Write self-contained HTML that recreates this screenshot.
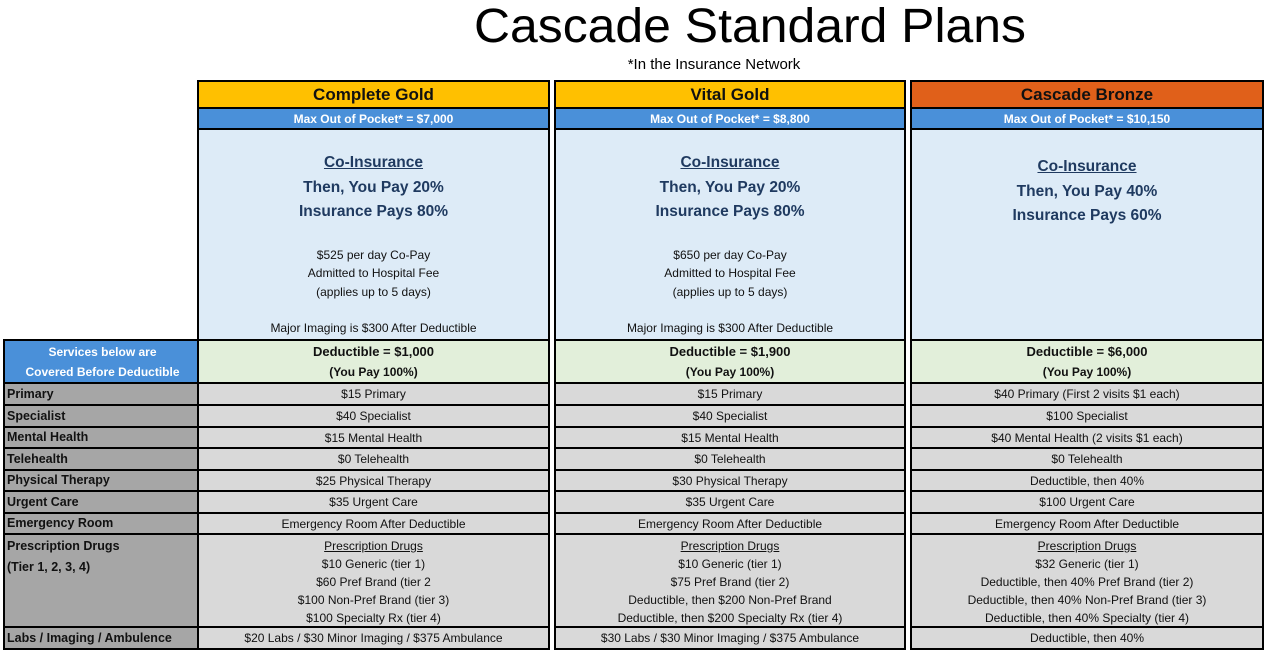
<!DOCTYPE html>
<html><head><meta charset="utf-8"><style>
*{margin:0;padding:0;box-sizing:border-box}
body{width:1269px;height:656px;background:#fff;position:relative;overflow:hidden;font-family:"Liberation Sans",sans-serif;}
.col{position:absolute;top:80px;height:570px;background:#000}
.c{position:absolute;left:2px;right:2px;display:flex;flex-direction:column;justify-content:center;align-items:center;text-align:center;white-space:nowrap;font-size:12px;color:#111;background:#d9d9d9;line-height:1}
.hd{font-weight:bold;font-size:17px;background:#ffc000}
.mx{font-weight:bold;font-size:12px;color:#fff;background:#4a90d9}
.big{background:#ddebf7;display:block}
.big div{position:absolute;left:0;right:0;text-align:center}
.ci{font-weight:bold;font-size:15.5px;color:#1f3a60}
.sm{font-size:12px;color:#111}
.dd{background:#e2efda;font-weight:bold;font-size:13px;line-height:20px}
.dd span{font-size:12px}
.rx{justify-content:flex-start;padding-top:2px;line-height:18px}
.lab{position:absolute;left:3px;top:339px;width:197px;height:311px;background:#000}
.l{position:absolute;left:2px;right:0;background:#a6a6a6;font-weight:bold;font-size:12.5px;color:#111;padding-left:2px;white-space:nowrap;display:flex;align-items:center;line-height:1}
</style></head><body>
<svg style="position:absolute;left:0;top:0" width="1269" height="80"><text x="750" y="42" text-anchor="middle" font-family="Liberation Sans" font-size="48" textLength="552" lengthAdjust="spacingAndGlyphs" fill="#000">Cascade Standard Plans</text>
<text x="714" y="69" text-anchor="middle" font-family="Liberation Sans" font-size="15" fill="#000">*In the Insurance Network</text></svg>

<div class="lab">
<div class="l" style="top:2px;height:41px;background:#4a90d9;color:#fff;justify-content:center;align-items:center;text-align:center;flex-direction:column;font-size:12px;line-height:20px;padding:0">Services below are<br>Covered Before Deductible</div>
<div class="l" style="top:45px;height:20px">Primary</div>
<div class="l" style="top:67px;height:20px">Specialist</div>
<div class="l" style="top:89px;height:19px">Mental Health</div>
<div class="l" style="top:110px;height:20px">Telehealth</div>
<div class="l" style="top:132px;height:19px">Physical Therapy</div>
<div class="l" style="top:153px;height:20px">Urgent Care</div>
<div class="l" style="top:175px;height:19px">Emergency Room</div>
<div class="l" style="top:196px;height:91px;align-items:flex-start;padding-top:1px;line-height:21px">Prescription Drugs<br>(Tier 1, 2, 3, 4)</div>
<div class="l" style="top:289px;height:20px">Labs / Imaging / Ambulence</div>
</div>

<!-- col 1 -->
<div class="col" style="left:197px;width:353px">
<div class="c hd" style="top:2px;height:25px">Complete Gold</div>
<div class="c mx" style="top:29px;height:19px">Max Out of Pocket* = $7,000</div>
<div class="c big" style="top:50px;height:209px">
<div class="ci" style="top:25px;text-decoration:underline">Co-Insurance</div>
<div class="ci" style="top:50px">Then, You Pay 20%</div>
<div class="ci" style="top:74px">Insurance Pays 80%</div>
<div class="sm" style="top:119px">$525 per day Co-Pay</div>
<div class="sm" style="top:137px">Admitted to Hospital Fee</div>
<div class="sm" style="top:156px">(applies up to 5 days)</div>
<div class="sm" style="top:192px">Major Imaging is $300 After Deductible</div>
</div>
<div class="c dd" style="top:261px;height:41px">Deductible = $1,000<span>(You Pay 100%)</span></div>
<div class="c" style="top:304px;height:20px">$15 Primary</div>
<div class="c" style="top:326px;height:20px">$40 Specialist</div>
<div class="c" style="top:348px;height:19px">$15 Mental Health</div>
<div class="c" style="top:369px;height:20px">$0 Telehealth</div>
<div class="c" style="top:391px;height:19px">$25 Physical Therapy</div>
<div class="c" style="top:412px;height:20px">$35 Urgent Care</div>
<div class="c" style="top:434px;height:19px">Emergency Room After Deductible</div>
<div class="c rx" style="top:455px;height:91px"><u>Prescription Drugs</u>$10 Generic (tier 1)<br>$60 Pref Brand (tier 2<br>$100 Non-Pref Brand (tier 3)<br>$100 Specialty Rx  (tier 4)</div>
<div class="c" style="top:548px;height:20px">$20 Labs / $30 Minor Imaging / $375 Ambulance</div>
</div>

<!-- col 2 -->
<div class="col" style="left:554px;width:352px">
<div class="c hd" style="top:2px;height:25px">Vital Gold</div>
<div class="c mx" style="top:29px;height:19px">Max Out of Pocket* = $8,800</div>
<div class="c big" style="top:50px;height:209px">
<div class="ci" style="top:25px;text-decoration:underline">Co-Insurance</div>
<div class="ci" style="top:50px">Then, You Pay 20%</div>
<div class="ci" style="top:74px">Insurance Pays 80%</div>
<div class="sm" style="top:119px">$650 per day Co-Pay</div>
<div class="sm" style="top:137px">Admitted to Hospital Fee</div>
<div class="sm" style="top:156px">(applies up to 5 days)</div>
<div class="sm" style="top:192px">Major Imaging is $300 After Deductible</div>
</div>
<div class="c dd" style="top:261px;height:41px">Deductible = $1,900<span>(You Pay 100%)</span></div>
<div class="c" style="top:304px;height:20px">$15 Primary</div>
<div class="c" style="top:326px;height:20px">$40 Specialist</div>
<div class="c" style="top:348px;height:19px">$15 Mental Health</div>
<div class="c" style="top:369px;height:20px">$0 Telehealth</div>
<div class="c" style="top:391px;height:19px">$30 Physical Therapy</div>
<div class="c" style="top:412px;height:20px">$35 Urgent Care</div>
<div class="c" style="top:434px;height:19px">Emergency Room After Deductible</div>
<div class="c rx" style="top:455px;height:91px"><u>Prescription Drugs</u>$10 Generic (tier 1)<br>$75 Pref Brand (tier 2)<br>Deductible, then $200 Non-Pref Brand<br>Deductible, then $200 Specialty Rx (tier 4)</div>
<div class="c" style="top:548px;height:20px">$30 Labs / $30 Minor Imaging / $375 Ambulance</div>
</div>

<!-- col 3 -->
<div class="col" style="left:910px;width:354px">
<div class="c hd" style="top:2px;height:25px;background:#e0601a">Cascade Bronze</div>
<div class="c mx" style="top:29px;height:19px">Max Out of Pocket* = $10,150</div>
<div class="c big" style="top:50px;height:209px">
<div class="ci" style="top:29px;text-decoration:underline">Co-Insurance</div>
<div class="ci" style="top:54px">Then, You Pay 40%</div>
<div class="ci" style="top:78px">Insurance Pays 60%</div>
</div>
<div class="c dd" style="top:261px;height:41px">Deductible = $6,000<span>(You Pay 100%)</span></div>
<div class="c" style="top:304px;height:20px">$40 Primary (First 2 visits $1 each)</div>
<div class="c" style="top:326px;height:20px">$100 Specialist</div>
<div class="c" style="top:348px;height:19px">$40 Mental Health (2 visits $1 each)</div>
<div class="c" style="top:369px;height:20px">$0 Telehealth</div>
<div class="c" style="top:391px;height:19px">Deductible, then 40%</div>
<div class="c" style="top:412px;height:20px">$100 Urgent Care</div>
<div class="c" style="top:434px;height:19px">Emergency Room After Deductible</div>
<div class="c rx" style="top:455px;height:91px"><u>Prescription Drugs</u>$32 Generic (tier 1)<br>Deductible, then 40% Pref Brand (tier 2)<br>Deductible, then 40% Non-Pref Brand (tier 3)<br>Deductible, then 40% Specialty (tier 4)</div>
<div class="c" style="top:548px;height:20px">Deductible, then 40%</div>
</div>
</body></html>
